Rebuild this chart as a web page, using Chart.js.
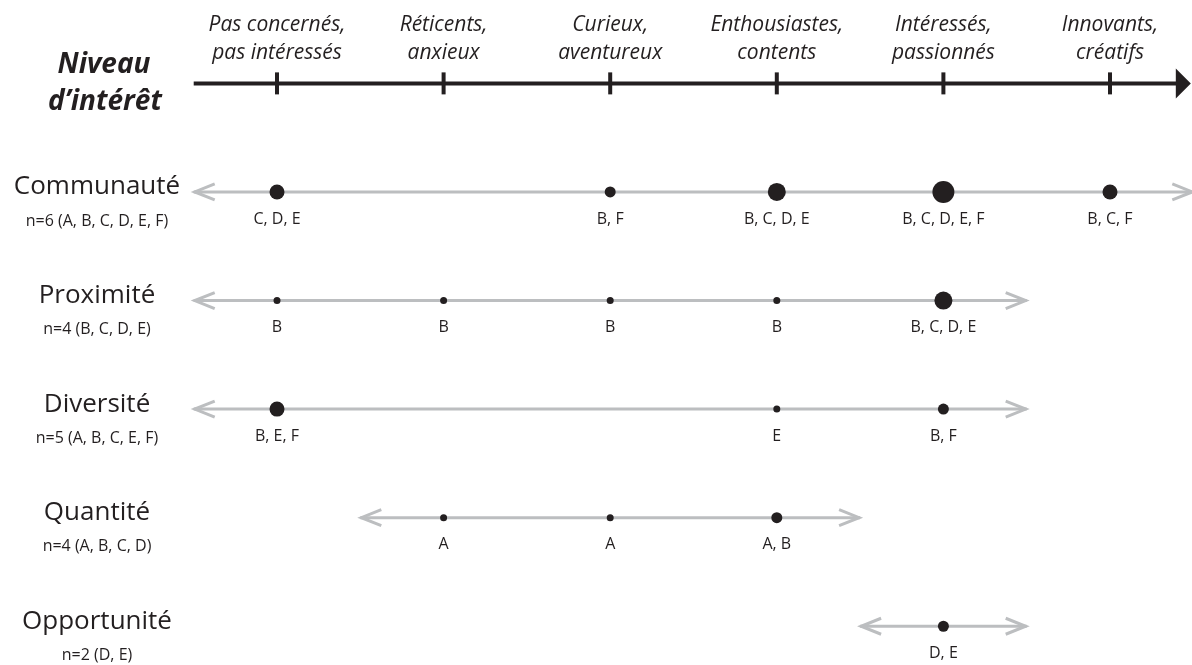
<!DOCTYPE html>
<html>
<head>
<meta charset="utf-8">
<script src="https://cdn.jsdelivr.net/npm/chart.js@4/dist/chart.umd.min.js"></script>
<style>
html,body{margin:0;padding:0;background:#fff;}
#wrap{width:1192px;height:665px;position:relative;}
</style>
</head>
<body>
<div id="wrap"><canvas id="c"></canvas></div>
<script>
// ---- Data ----
const axisTitle = ['Niveau', 'd\u2019intérêt'];
const levelLabels = [
  ['Pas concernés,', 'pas intéressés'],
  ['Réticents,', 'anxieux'],
  ['Curieux,', 'aventureux'],
  ['Enthousiastes,', 'contents'],
  ['Intéressés,', 'passionnés'],
  ['Innovants,', 'créatifs']
];
const levelValues = [1, 2, 3, 4, 5, 6];

const rowNames = ['Communauté', 'Proximité', 'Diversité', 'Quantité', 'Opportunité'];
const rowCounts = ['n=6 (A, B, C, D, E, F)', 'n=4 (B, C, D, E)', 'n=5 (A, B, C, E, F)', 'n=4 (A, B, C, D)', 'n=2 (D, E)'];

const communauteLevels = [1, 3, 4, 5, 6];
const communauteGroups = ['C, D, E', 'B, F', 'B, C, D, E', 'B, C, D, E, F', 'B, C, F'];
const proximiteLevels = [1, 2, 3, 4, 5];
const proximiteGroups = ['B', 'B', 'B', 'B', 'B, C, D, E'];
const diversiteLevels = [1, 4, 5];
const diversiteGroups = ['B, E, F', 'E', 'B, F'];
const quantiteLevels = [2, 3, 4];
const quantiteGroups = ['A', 'A', 'A, B'];
const opportuniteLevels = [5];
const opportuniteGroups = ['D, E'];

const rowLevels = [communauteLevels, proximiteLevels, diversiteLevels, quantiteLevels, opportuniteLevels];
const rowGroups = [communauteGroups, proximiteGroups, diversiteGroups, quantiteGroups, opportuniteGroups];
const rowRanges = [[1, 6], [1, 5], [1, 5], [2, 4], [5, 5]];

// ---- Styling ----
const INK = '#231f20';
const GREY = '#bcbec0';
const FONT = '"Open Sans", "Noto Sans", sans-serif';
const radiusByCount = {1: 3.5, 2: 5.5, 3: 7.5, 4: 9, 5: 11};
const TOP_Y = -1;

const datasets = [];
// dots
rowLevels.forEach((lv, i) => {
  const groups = rowGroups[i];
  datasets.push({
    type: 'scatter', kind: 'dots', row: i, labelsText: groups,
    data: lv.map(v => ({x: v, y: i})),
    pointRadius: groups.map(g => radiusByCount[g.split(',').length]),
    pointHoverRadius: groups.map(g => radiusByCount[g.split(',').length]),
    pointBackgroundColor: INK, pointBorderWidth: 0, borderColor: INK,
    showLine: false, order: 0, clip: false
  });
});
// row lines
rowRanges.forEach((r, i) => {
  datasets.push({
    type: 'line', kind: 'row',
    data: [{x: r[0] - 0.5, y: i}, {x: r[1] + 0.5, y: i}],
    borderColor: GREY, borderWidth: 3, pointRadius: 0, order: 2, clip: false
  });
});
// top axis line
datasets.push({
  type: 'line', kind: 'axis',
  data: [{x: 0.5, y: TOP_Y}, {x: 6.42, y: TOP_Y}],
  borderColor: INK, borderWidth: 4, pointRadius: 0, order: 1, clip: false
});
// top axis ticks
datasets.push({
  type: 'scatter', kind: 'ticks',
  data: levelValues.map(v => ({x: v, y: TOP_Y})),
  pointStyle: 'line', pointRotation: 90, pointRadius: 11, pointHoverRadius: 11,
  borderColor: INK, pointBorderColor: INK, pointBorderWidth: 4, order: 0, clip: false
});

const deco = {
  id: 'deco',
  afterDatasetsDraw(chart) {
    const ctx = chart.ctx;
    const xs = chart.scales.x, ys = chart.scales.y;
    ctx.save();
    // arrowhead on top axis
    const ty = ys.getPixelForValue(TOP_Y);
    const tipX = xs.getPixelForValue(6.485);
    ctx.fillStyle = INK;
    ctx.beginPath();
    ctx.moveTo(tipX, ty);
    ctx.lineTo(tipX - 15, ty - 15);
    ctx.lineTo(tipX - 15, ty + 15);
    ctx.closePath();
    ctx.fill();
    // chevrons on row lines
    ctx.strokeStyle = GREY; ctx.lineWidth = 3; ctx.lineCap = 'butt'; ctx.lineJoin = 'miter';
    rowRanges.forEach((r, i) => {
      const y = ys.getPixelForValue(i);
      const l = xs.getPixelForValue(r[0] - 0.5);
      const rr = xs.getPixelForValue(r[1] + 0.5);
      ctx.beginPath();
      ctx.moveTo(l + 21, y - 8); ctx.lineTo(l + 1, y); ctx.lineTo(l + 21, y + 8);
      ctx.stroke();
      ctx.beginPath();
      ctx.moveTo(rr - 21, y - 8); ctx.lineTo(rr - 1, y); ctx.lineTo(rr - 21, y + 8);
      ctx.stroke();
    });
    ctx.fillStyle = INK;
    ctx.textAlign = 'center';
    ctx.textBaseline = 'middle';
    // level labels
    ctx.font = 'italic 21px ' + FONT;
    levelLabels.forEach((lines, k) => {
      const x = xs.getPixelForValue(levelValues[k]);
      ctx.fillText(lines[0], x, ty - 58);
      ctx.fillText(lines[1], x, ty - 30);
    });
    // axis title
    ctx.font = 'italic bold 28px ' + FONT;
    ctx.fillText(axisTitle[0], 104, ty - 18);
    ctx.fillText(axisTitle[1], 105, ty + 19);
    // row names and counts
    rowNames.forEach((name, i) => {
      const y = ys.getPixelForValue(i);
      ctx.font = '26px ' + FONT;
      ctx.fillText(name, 97, y - 5);
      ctx.font = '16px ' + FONT;
      ctx.fillText(rowCounts[i], 97, y + 29);
    });
    // group labels under dots
    ctx.font = '16px ' + FONT;
    chart.data.datasets.forEach((ds, di) => {
      if (ds.kind !== 'dots') return;
      const meta = chart.getDatasetMeta(di);
      meta.data.forEach((pt, j) => {
        ctx.fillText(ds.labelsText[j], pt.x, pt.y + 27);
      });
    });
    ctx.restore();
  }
};

new Chart(document.getElementById('c'), {
  type: 'scatter',
  data: {datasets},
  options: {
    responsive: true, maintainAspectRatio: false, animation: false,
    layout: {padding: 0, autoPadding: false},
    plugins: {legend: {display: false}, tooltip: {enabled: false}},
    events: [],
    scales: {
      x: {type: 'linear', display: false, min: -0.6627, max: 6.4922},
      y: {type: 'linear', display: false, reverse: true, min: -1.768, max: 4.357}
    }
  },
  plugins: [deco]
});
</script>
</body>
</html>
